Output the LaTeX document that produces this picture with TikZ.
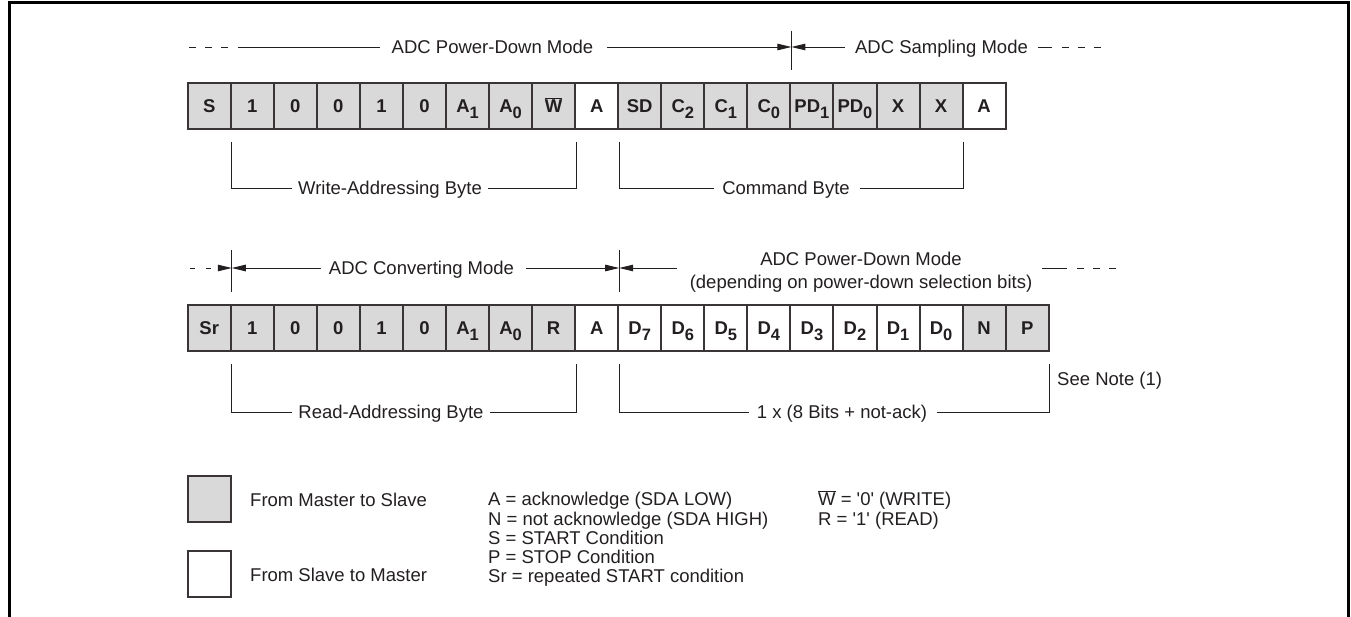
\documentclass[tikz,border=0pt]{standalone}
\usepackage{fontspec}
\setmainfont{Liberation Sans}
\usetikzlibrary{arrows.meta,calc}
\definecolor{cellgray}{HTML}{D9D9D9}
\definecolor{ink}{HTML}{231F20}
\newcommand{\bsub}[1]{\raisebox{-0.34em}{\fontsize{16.5}{17}\selectfont #1}}
\newcommand{\ovW}{$\overline{\mbox{W}}$}
\begin{document}
\begin{tikzpicture}[x=1pt,y=-1pt,
  every node/.style={font=\fontsize{18.5}{19.3}\selectfont, text=ink, inner sep=0pt},
  tx/.style={text height=13.3pt, text depth=0pt},
  cell/.style={draw=ink!90, line width=2pt, minimum width=43.05pt, minimum height=46pt,
    text height=13.3pt, text depth=0pt, font=\fontsize{18.5}{19}\selectfont\bfseries},
  m2s/.style={cell, fill=cellgray},
  s2m/.style={cell, fill=white},
  thin/.style={draw=ink, line width=0.9pt},
  tip/.style={-{Triangle[length=14pt,width=6.5pt]}},
  dashy/.style={thin, dash pattern=on 7pt off 9pt},
]
\useasboundingbox (0,0) rectangle (1351,617);
\draw[line width=3pt] (9,640) -- (9,3) -- (1348,3) -- (1348,640);

% ---- row 1 cells
\foreach \t/\s [count=\i from 0] in {S/m2s,1/m2s,0/m2s,0/m2s,1/m2s,0/m2s,{A\bsub{1}}/m2s,{A\bsub{0}}/m2s,{\ovW}/m2s,A/s2m,SD/m2s,{C\bsub{2}}/m2s,{C\bsub{1}}/m2s,{C\bsub{0}}/m2s,{PD\bsub{1}}/m2s,{PD\bsub{0}}/m2s,X/m2s,X/m2s,A/s2m}
  \node[\s] (r1c\i) at ({187.7+43.05*(\i+0.5)},106) {\t};

% ---- row 2 cells
\foreach \t/\s [count=\i from 0] in {Sr/m2s,1/m2s,0/m2s,0/m2s,1/m2s,0/m2s,{A\bsub{1}}/m2s,{A\bsub{0}}/m2s,R/m2s,A/s2m,{D\bsub{7}}/s2m,{D\bsub{6}}/s2m,{D\bsub{5}}/s2m,{D\bsub{4}}/s2m,{D\bsub{3}}/s2m,{D\bsub{2}}/s2m,{D\bsub{1}}/s2m,{D\bsub{0}}/s2m,N/m2s,P/m2s}
  \node[\s] (r2c\i) at ({187.7+43.05*(\i+0.5)},328) {\t};

% ---- top mode line (row 1)
\node[tx] (pdm) at (492.5,47) {ADC Power-Down Mode};
\node[tx] (sam) at (941.5,47) {ADC Sampling Mode};
\coordinate (d1a) at (189,47);
\coordinate (d1b) at (229,47);
\coordinate (l1a) at (238,47);
\coordinate (m1) at (r1c13.east |- 0,47);
\coordinate (m1t) at (r1c13.east |- 0,31);
\coordinate (m1b) at (r1c13.east |- 0,70);
\coordinate (r1a) at (1052,47);
\coordinate (d2a) at (1062,47);
\coordinate (d2b) at (1104,47);
\draw[dashy] (d1a) -- (d1b);
\draw[thin] (l1a) -- ([xshift=-12pt]pdm.west);
\draw[thin,tip] ([xshift=14pt]pdm.east) -- (m1);
\draw[thin] (m1t) -- (m1b);
\draw[thin,tip] ([xshift=-10pt]sam.west) -- (m1);
\draw[thin] ([xshift=10pt]sam.east) -- (r1a);
\draw[dashy] (d2a) -- (d2b);

% ---- row 1 brackets
\node[tx] (wab) at (390,188) {Write-Addressing Byte};
\node[tx] (cmb) at (786,188) {Command Byte};
\draw[thin] ([xshift=-6pt]wab.west) -| ($(r1c0.south east)+(0,12)$);
\draw[thin] ([xshift=6pt]wab.east) -| ($(r1c8.south east)+(0,12)$);
\draw[thin] ([xshift=-8pt]cmb.west) -| ($(r1c9.south east)+(0,12)$);
\draw[thin] ([xshift=10pt]cmb.east) -| ($(r1c17.south east)+(0,12)$);

% ---- second mode line (row 2)
\node[tx] (cvm) at (421.5,268) {ADC Converting Mode};
\node[tx] (pda) at (861,259) {ADC Power-Down Mode};
\node[tx] (pdb) at (861,282) {(depending on power-down selection bits)};
\coordinate (e1a) at (190,268);
\coordinate (v2) at (r2c0.east |- 0,268);
\coordinate (v2t) at (r2c0.east |- 0,250);
\coordinate (v2b) at (r2c0.east |- 0,292);
\coordinate (v3) at (r2c9.east |- 0,268);
\coordinate (v3t) at (r2c9.east |- 0,250);
\coordinate (v3b) at (r2c9.east |- 0,292);
\coordinate (l3a) at (677,268);
\coordinate (r3a) at (1042,268);
\coordinate (r3b) at (1067,268);
\coordinate (d3a) at (1077,268);
\coordinate (d3b) at (1120,268);
\draw[thin,tip,dash pattern=on 5pt off 11pt] (e1a) -- (v2);
\draw[thin] (v2t) -- (v2b);
\draw[thin,tip] ([xshift=-8pt]cvm.west) -- (v2);
\draw[thin,tip] ([xshift=12pt]cvm.east) -- (v3);
\draw[thin] (v3t) -- (v3b);
\draw[thin,tip] (l3a) -- (v3);
\draw[thin] (r3a) -- (r3b);
\draw[dashy] (d3a) -- (d3b);

% ---- row 2 brackets
\node[tx] (rab) at (391,412) {Read-Addressing Byte};
\node[tx] (dab) at (842,412) {1 x (8 Bits + not-ack)};
\node[tx,anchor=west] (note) at (1057,379) {See Note (1)};
\draw[thin] ([xshift=-6pt]rab.west) -| ($(r2c0.south east)+(0,12)$);
\draw[thin] ([xshift=6pt]rab.east) -| ($(r2c8.south east)+(0,12)$);
\draw[thin] ([xshift=-8pt]dab.west) -| ($(r2c9.south east)+(0,12)$);
\draw[thin] ([xshift=10pt]dab.east) -| ($(r2c19.south east)+(0,12)$);

% ---- legend
\node[m2s] (lg1) at (209.8,499) {};
\node[s2m] (lg2) at (209.8,574) {};
\node[tx,anchor=west] (lt1) at (250,500) {From Master to Slave};
\node[tx,anchor=west] (lt2) at (250,575) {From Slave to Master};
\node[tx,anchor=west] (k1) at (488,499) {A = acknowledge (SDA LOW)};
\node[tx,anchor=west] (k2) at (488,519) {N = not acknowledge (SDA HIGH)};
\node[tx,anchor=west] (k3) at (488,538) {S = START Condition};
\node[tx,anchor=west] (k4) at (488,557) {P = STOP Condition};
\node[tx,anchor=west] (k5) at (488,576) {Sr = repeated START condition};
\node[tx,anchor=west] (k6) at (818,499) {\ovW\ = \textquotesingle0\textquotesingle\ (WRITE)};
\node[tx,anchor=west] (k7) at (818,519) {R = \textquotesingle1\textquotesingle\ (READ)};
\end{tikzpicture}
\end{document}
